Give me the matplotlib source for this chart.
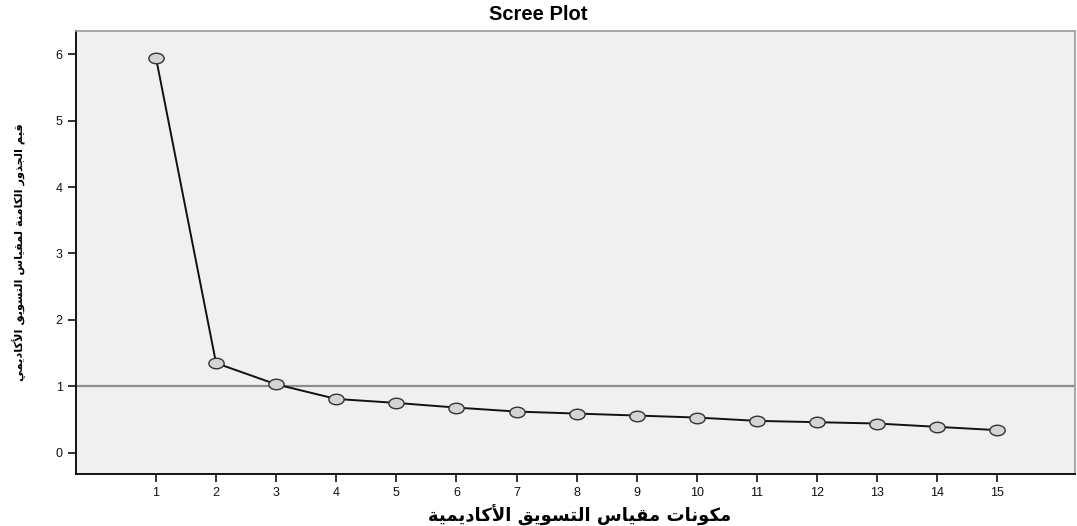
import matplotlib
matplotlib.use("Agg")
import matplotlib.pyplot as plt
from matplotlib.path import Path
from matplotlib.transforms import Affine2D

components = list(range(1, 16))
eigenvalues = [5.95, 1.35, 1.03, 0.81, 0.75, 0.68, 0.62, 0.59, 0.56,
               0.53, 0.48, 0.46, 0.44, 0.39, 0.34]
x_ticks = components
y_ticks = [0, 1, 2, 3, 4, 5, 6]

title = "Scree Plot"
x_label = "مكونات مقياس التسويق الأكاديمية"
y_label = "قيم الجذور الكامنة لمقياس التسويق الأكاديمي"

# matplotlib does no Arabic shaping, so map letters to presentation forms
# (isolated, final, initial, medial) and put them in visual order.
FORMS = {
    "ا": ("\uFE8D", "\uFE8E", None, None),
    "أ": ("\uFE83", "\uFE84", None, None),
    "ت": ("\uFE95", "\uFE96", "\uFE97", "\uFE98"),
    "ة": ("\uFE93", "\uFE94", None, None),
    "ج": ("\uFE9D", "\uFE9E", "\uFE9F", "\uFEA0"),
    "د": ("\uFEA9", "\uFEAA", None, None),
    "ذ": ("\uFEAB", "\uFEAC", None, None),
    "ر": ("\uFEAD", "\uFEAE", None, None),
    "س": ("\uFEB1", "\uFEB2", "\uFEB3", "\uFEB4"),
    "ف": ("\uFED1", "\uFED2", "\uFED3", "\uFED4"),
    "ق": ("\uFED5", "\uFED6", "\uFED7", "\uFED8"),
    "ك": ("\uFED9", "\uFEDA", "\uFEDB", "\uFEDC"),
    "ل": ("\uFEDD", "\uFEDE", "\uFEDF", "\uFEE0"),
    "م": ("\uFEE1", "\uFEE2", "\uFEE3", "\uFEE4"),
    "ن": ("\uFEE5", "\uFEE6", "\uFEE7", "\uFEE8"),
    "و": ("\uFEED", "\uFEEE", None, None),
    "ي": ("\uFEF1", "\uFEF2", "\uFEF3", "\uFEF4"),
}
LAM_ALEF = {"ا": ("\uFEFB", "\uFEFC"), "أ": ("\uFEF7", "\uFEF8")}


def joins_forward(ch):
    return ch in FORMS and FORMS[ch][2] is not None


def shape(text):
    out = []
    i = 0
    n = len(text)
    while i < n:
        ch = text[i]
        if ch not in FORMS:
            out.append(ch)
            i += 1
            continue
        prev = text[i - 1] if i > 0 else ""
        linked_prev = joins_forward(prev)
        if ch == "ل" and i + 1 < n and text[i + 1] in LAM_ALEF:
            iso, fin = LAM_ALEF[text[i + 1]]
            out.append(fin if linked_prev else iso)
            i += 2
            continue
        nxt = text[i + 1] if i + 1 < n else ""
        linked_next = joins_forward(ch) and nxt in FORMS
        iso, fin, ini, med = FORMS[ch]
        if linked_prev and linked_next:
            out.append(med)
        elif linked_prev:
            out.append(fin)
        elif linked_next:
            out.append(ini)
        else:
            out.append(iso)
        i += 1
    return "".join(out)[::-1]


plt.rcParams["font.family"] = ["Liberation Sans", "DejaVu Sans"]

# the original is stretched sideways, so the circles come out as ellipses
ellipse = Path.unit_circle().transformed(Affine2D().scale(1.45, 1.0))

fig = plt.figure(figsize=(10.77, 5.26), dpi=100)
ax = fig.add_axes([76 / 1077, 1 - 474 / 526, (1075 - 76) / 1077, (474 - 31) / 526])
ax.set_facecolor("#f0f0f0")

ax.axhline(1, color="#8c8c8c", linewidth=1.6, zorder=1)
ax.plot(components, eigenvalues, color="#111111", linewidth=1.4,
        marker=ellipse, markersize=11, markerfacecolor="#d4d4d4",
        markeredgecolor="#333333", markeredgewidth=1.0, zorder=3)

ax.set_xlim(-0.33, 16.29)
ax.set_ylim(-0.32, 6.35)
ax.set_xticks(x_ticks)
ax.set_yticks(y_ticks)
ax.tick_params(axis="both", direction="out", length=6, width=1.2,
               labelsize=9, colors="#111111")

for side in ["left", "bottom"]:
    ax.spines[side].set_color("#111111")
    ax.spines[side].set_linewidth(1.4)
for side in ["top", "right"]:
    ax.spines[side].set_color("#9a9a9a")
    ax.spines[side].set_linewidth(1.2)

fig.text(0.5, 1 - 15 / 526, title, fontsize=14.5, fontweight="bold",
         ha="center", va="center")
fig.text(580 / 1077, 1 - 515 / 526, shape(x_label), fontsize=13,
         fontweight="bold", family=["DejaVu Sans"], ha="center", va="center")
fig.text(19 / 1077, 1 - 252 / 526, shape(y_label), fontsize=8.2,
         fontweight="bold", family=["DejaVu Sans"], rotation=90,
         ha="center", va="center")

fig.savefig("out.png", dpi=100)
